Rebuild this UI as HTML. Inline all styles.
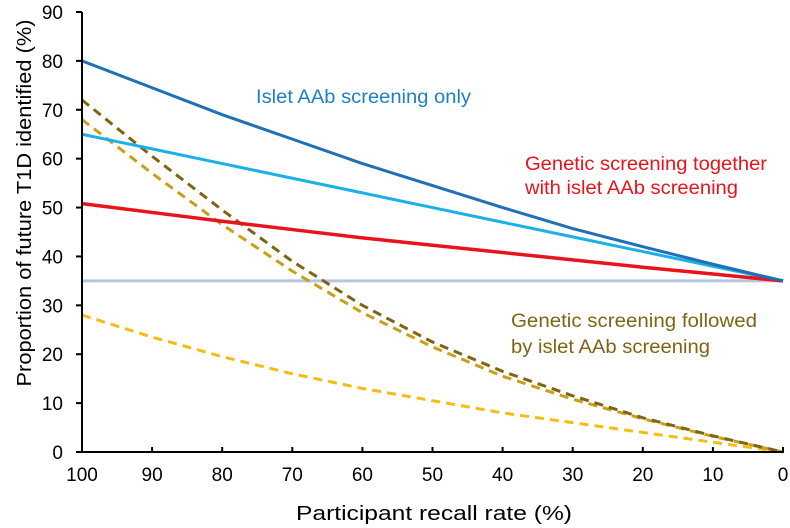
<!DOCTYPE html>
<html><head><meta charset="utf-8"><style>
body{margin:0;background:#fff}
svg{display:block;font-family:"Liberation Sans",sans-serif}
</style></head><body>
<svg id="chart" width="790" height="528" viewBox="0 0 790 528">
<g id="series"></g>
<g id="axes"></g>
<text x="256" y="103" fill="#1f7fc4" font-size="19" textLength="215" lengthAdjust="spacingAndGlyphs">Islet AAb screening only</text>
<text x="525" y="170" fill="#e8141b" font-size="19" textLength="242" lengthAdjust="spacingAndGlyphs">Genetic screening together</text>
<text x="525" y="194" fill="#e8141b" font-size="19" textLength="213" lengthAdjust="spacingAndGlyphs">with islet AAb screening</text>
<text x="511" y="327" fill="#7f6412" font-size="19" textLength="246" lengthAdjust="spacingAndGlyphs">Genetic screening followed</text>
<text x="511" y="353" fill="#7f6412" font-size="19" textLength="199" lengthAdjust="spacingAndGlyphs">by islet AAb screening</text>
<text transform="translate(31,203) rotate(-90)" text-anchor="middle" font-size="20" textLength="367" lengthAdjust="spacingAndGlyphs">Proportion of future T1D identified (%)</text>
<text x="434" y="520" text-anchor="middle" font-size="20" textLength="276" lengthAdjust="spacingAndGlyphs">Participant recall rate (%)</text>
</svg>
<script>
const xCats=[100,90,80,70,60,50,40,30,20,10,0];
const xTicks=[100,90,80,70,60,50,40,30,20,10,0];
const yTicks=[0,10,20,30,40,50,60,70,80,90];
const isletOnly=[80,74.5,69,64,59,54.5,50,45.7,42,38.4,35];
const isletLight=[65,62,59,56,53,50,47,44,41,38,35];
const geneticTogether=[50.8,49,47.2,45.5,43.8,42.3,40.8,39.3,37.8,36.4,35];
const baseline=[35,35,35,35,35,35,35,35,35,35,35];
const followedDark=[72,60.5,49.5,39,30,22.5,16.5,11.5,7,3.3,0];
const followedGold=[68,57,46.5,37,28.5,21.5,15.5,10.8,6.8,3.2,0];
const followedYellow=[28,23.5,19.5,16,13,10.5,8,6,4,2,0];
const X=v=>783-(v/100)*701;
const Y=v=>452-(v/90)*440;
const NS="http://www.w3.org/2000/svg";
function mk(t,a,p){const e=document.createElementNS(NS,t);for(const k in a)e.setAttribute(k,a[k]);p.appendChild(e);return e;}
const S=document.getElementById('series'),A=document.getElementById('axes');
function line(vals,color,w,dash,name){
 const e=mk('polyline',{points:vals.map((v,i)=>X(xCats[i])+','+Y(v)).join(' '),fill:'none',stroke:color,'stroke-width':w,'stroke-dasharray':dash||'none','stroke-linejoin':'round'},S);
 
 
}
line(baseline,'#b4c6e0',3,null,'baseline-line');
line(followedYellow,'#f5bd13',3,'9,6','series-followed-yellow');
line(followedGold,'#c8a018',3,'9,6','series-followed-gold');
line(followedDark,'#7f6412',3,'9,6','series-followed-dark');
line(isletLight,'#1cb0e8',3,null,'series-islet-light');
line(geneticTogether,'#e8141b',3.5,null,'series-genetic-together');
line(isletOnly,'#1f70b5',3,null,'series-islet-only');
let ax=mk('line',{x1:82,y1:Y(0),x2:82,y2:Y(90),stroke:'#000','stroke-width':2},A);


let bx=mk('line',{x1:76,y1:Y(0),x2:784,y2:Y(0),stroke:'#000','stroke-width':2},A);


yTicks.forEach(v=>{
 mk('line',{x1:76,x2:82,y1:Y(v),y2:Y(v),stroke:'#000','stroke-width':2},A);
 const t=mk('text',{x:63,y:Y(v)+7,'text-anchor':'end','font-size':19},A);t.textContent=v;
 
 
});
xTicks.forEach(v=>{
 mk('line',{x1:X(v),x2:X(v),y1:Y(0)-5,y2:Y(0),stroke:'#000','stroke-width':2},A);
 const t=mk('text',{x:X(v),y:481,'text-anchor':'middle','font-size':19},A);t.textContent=v;
 
 
});
</script>
</body></html>
